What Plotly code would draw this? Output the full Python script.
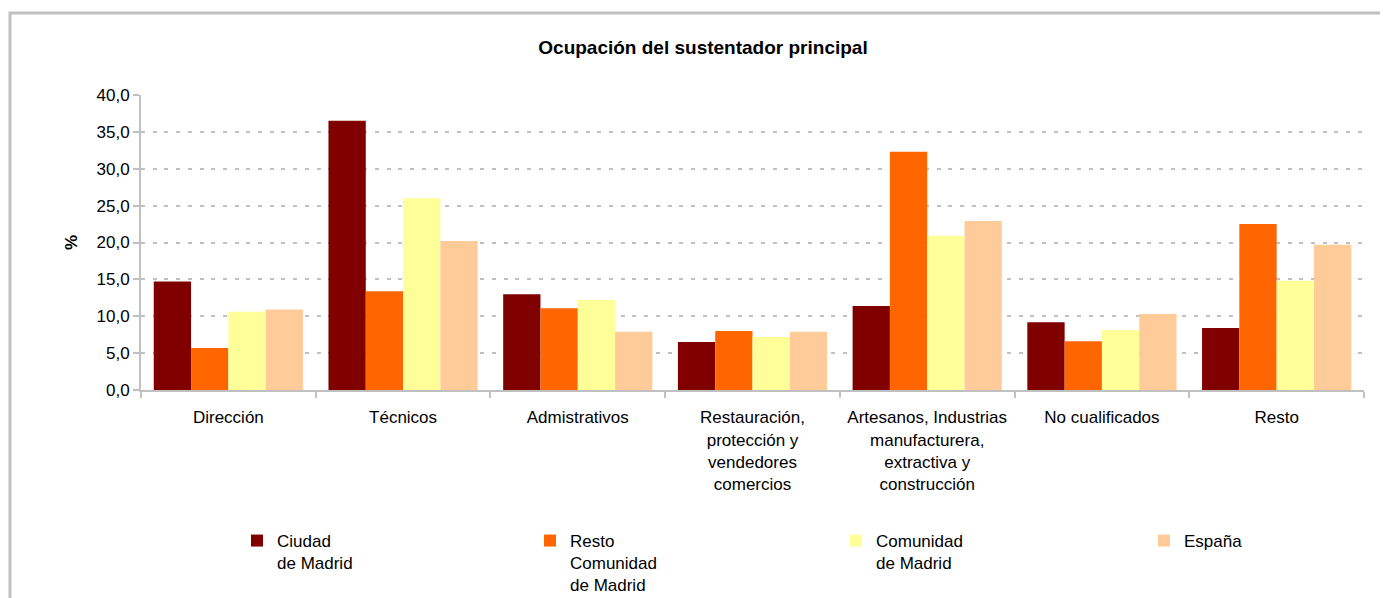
import plotly.graph_objects as go

categories = [
    "Dirección",
    "Técnicos",
    "Admistrativos",
    "Restauración,<br>protección y<br>vendedores<br>comercios",
    "Artesanos, Industrias<br>manufacturera,<br>extractiva y<br>construcción",
    "No cualificados",
    "Resto",
]
series_names = ["Ciudad<br>de Madrid", "Resto<br>Comunidad<br>de Madrid", "Comunidad<br>de Madrid", "España"]
ciudad_madrid = [14.7, 36.5, 13.0, 6.5, 11.4, 9.2, 8.4]
resto_comunidad = [5.7, 13.4, 11.1, 8.0, 32.3, 6.6, 22.5]
comunidad_madrid = [10.6, 26.0, 12.2, 7.2, 20.9, 8.1, 14.8]
espana = [10.9, 20.2, 7.9, 7.9, 22.9, 10.3, 19.7]
colors = ["#800000", "#FF6600", "#FFFF99", "#FFCC99"]

# page body has an 8px margin; figure is sized to fill the rest of the window
W, H = 1380, 590
ML, MR, MT, MB = 133, 24, 87, 208
PW, PH = W - ML - MR, H - MT - MB

FONT = "Liberation Sans, Arial, sans-serif"
legend_ids = ["legend", "legend2", "legend3", "legend4"]
legend_x_px = [229, 522, 828, 1136]

fig = go.Figure()
for name, vals, col, lg in zip(series_names, [ciudad_madrid, resto_comunidad, comunidad_madrid, espana],
                               colors, legend_ids):
    fig.add_trace(go.Bar(x=categories, y=vals, name=name, legend=lg,
                         marker=dict(color=col, line=dict(width=0))))


def px_x(p):
    return (p - ML) / PW


def px_y(p):
    return 1 - (p - MT) / PH


fig.add_shape(type="rect", xref="paper", yref="paper",
              x0=px_x(2), x1=px_x(W + 10), y0=px_y(H + 10), y1=px_y(5),
              line=dict(color="#c0c0c0", width=3), fillcolor="rgba(0,0,0,0)", layer="below")

legend_common = dict(orientation="h", xref="container", yref="container",
                     xanchor="left", y=1 - 515 / H, yanchor="top", valign="top",
                     font=dict(size=17, family=FONT, color="#000"), bgcolor="rgba(0,0,0,0)")
legend_layout = {lg: dict(legend_common, x=xp / W) for lg, xp in zip(legend_ids, legend_x_px)}

fig.update_layout(
    width=W, height=H,
    margin=dict(l=ML, r=MR, t=MT, b=MB, autoexpand=False),
    paper_bgcolor="white", plot_bgcolor="white",
    separators=",.",
    font=dict(family=FONT, size=17, color="#000000"),
    title=dict(text="<b>Ocupación del sustentador principal</b>", x=695 / W, xref="container",
               xanchor="center", y=1 - 39 / H, yanchor="middle", font=dict(size=19, family=FONT, color="#000")),
    barmode="group", bargap=0.146, bargroupgap=0,
    showlegend=True,
    xaxis=dict(type="category", showline=True, linecolor="#c0c0c0", linewidth=2,
               ticks="outside", tickson="boundaries", ticklen=6, tickcolor="#c0c0c0", tickwidth=2,
               ticklabelstandoff=11,
               showgrid=False, tickfont=dict(size=17, family=FONT, color="#000"), tickangle=0),
    yaxis=dict(range=[0, 40], dtick=5, tickformat=".1f", showline=True, linecolor="#c0c0c0", linewidth=2,
               ticks="outside", ticklen=6, tickcolor="#c0c0c0", tickwidth=2,
               showgrid=True, gridcolor="#c0c0c0", gridwidth=2, griddash="4px,7.7px",
               zeroline=False, tickfont=dict(size=17, family=FONT, color="#000"),
               title=dict(text="<b>%</b>", standoff=15, font=dict(size=17, family=FONT, color="#000"))),
    **legend_layout,
)

fig.write_html("out.html")
